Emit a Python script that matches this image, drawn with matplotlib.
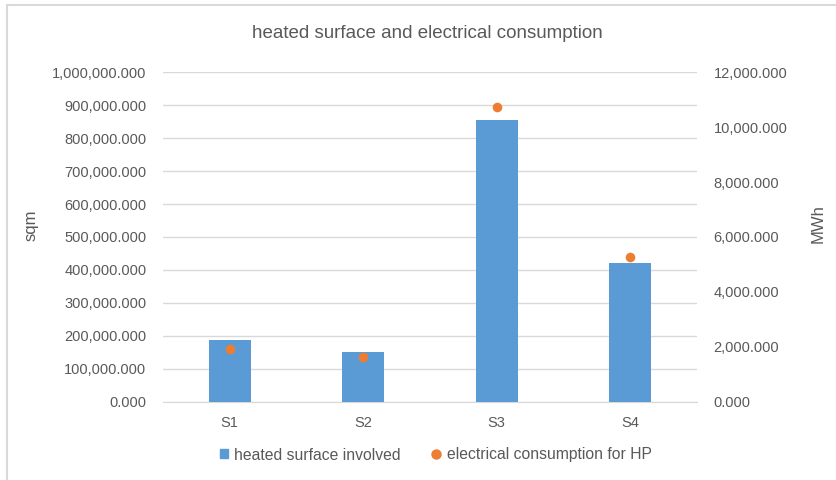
import matplotlib
matplotlib.use("Agg")
import matplotlib.pyplot as plt
from matplotlib.ticker import FuncFormatter
from matplotlib.lines import Line2D
from matplotlib.patches import Patch

categories = ["S1", "S2", "S3", "S4"]
heated_surface = [186400, 150000, 856100, 420200]
electrical_consumption = [1909, 1617, 10736, 5271]

plt.rcParams['font.family'] = ['Liberation Sans', 'DejaVu Sans']
txt = '#595959'
blue = '#5B9BD5'
orange = '#ED7D31'

fig = plt.figure(figsize=(8.37, 4.8), dpi=100)
ax = fig.add_axes([163/837, 1-401.7/480, (697-163)/837, (401.7-72.3)/480])
ax2 = ax.twinx()

x = list(range(len(categories)))
ax.bar(x, heated_surface, width=0.315, color=blue, zorder=3)
ax2.scatter(x, electrical_consumption, s=48, color=orange, zorder=4, linewidths=0)

ax.set_xlim(-0.5, 3.5)
ax.set_ylim(0, 1000000)
ax2.set_ylim(0, 12000)
ax.set_yticks(range(0, 1000001, 100000))
ax2.set_yticks(range(0, 12001, 2000))
fmt = FuncFormatter(lambda v, p: f"{v:,.3f}")
ax.yaxis.set_major_formatter(fmt)
ax2.yaxis.set_major_formatter(fmt)
ax.set_xticks(x)
ax.set_xticklabels(categories)
ax.grid(axis='y', color='#D9D9D9', linewidth=1, zorder=0)
ax.set_axisbelow(True)
for a in (ax, ax2):
    for s in a.spines.values():
        s.set_visible(False)
    a.tick_params(length=0, colors=txt, labelsize=10.5)
ax.spines['bottom'].set_visible(True)
ax.spines['bottom'].set_color('#D9D9D9')
ax.tick_params(axis='y', pad=12)
ax2.tick_params(axis='y', pad=12)
ax.tick_params(axis='x', pad=10)

ax.set_ylabel("sqm", color=txt, fontsize=12)
ax2.set_ylabel("MWh", color=txt, fontsize=12)
ax.yaxis.label.set_va('center')
ax2.yaxis.label.set_va('center')
ax.yaxis.set_label_coords((31-163)/534, (401.7-225)/329.4)
ax2.yaxis.set_label_coords((818.5-163)/534, (401.7-223.5)/329.4)

fig.text(427/837, 1-33/480, "heated surface and electrical consumption",
         ha='center', va='center', color=txt, fontsize=13.5)

handles = [Patch(color=blue, label="heated surface involved"),
           Line2D([], [], marker='o', color=orange, linestyle='None', markersize=6.5,
                  label="electrical consumption for HP")]
fig.legend(handles=handles, loc='center', bbox_to_anchor=(436/837, 1-455/480),
           ncol=2, frameon=False, fontsize=11.3, labelcolor=txt,
           handlelength=0.5, handleheight=0.5, handletextpad=0.4, columnspacing=2.0)

fig.add_artist(Line2D([7/837, 7/837], [0, 1-5/480], transform=fig.transFigure,
                      color='#D9D9D9', linewidth=1.5))
fig.add_artist(Line2D([7/837, 1], [1-5/480, 1-5/480], transform=fig.transFigure,
                      color='#D9D9D9', linewidth=1.5))

fig.savefig("out.png", dpi=100)
